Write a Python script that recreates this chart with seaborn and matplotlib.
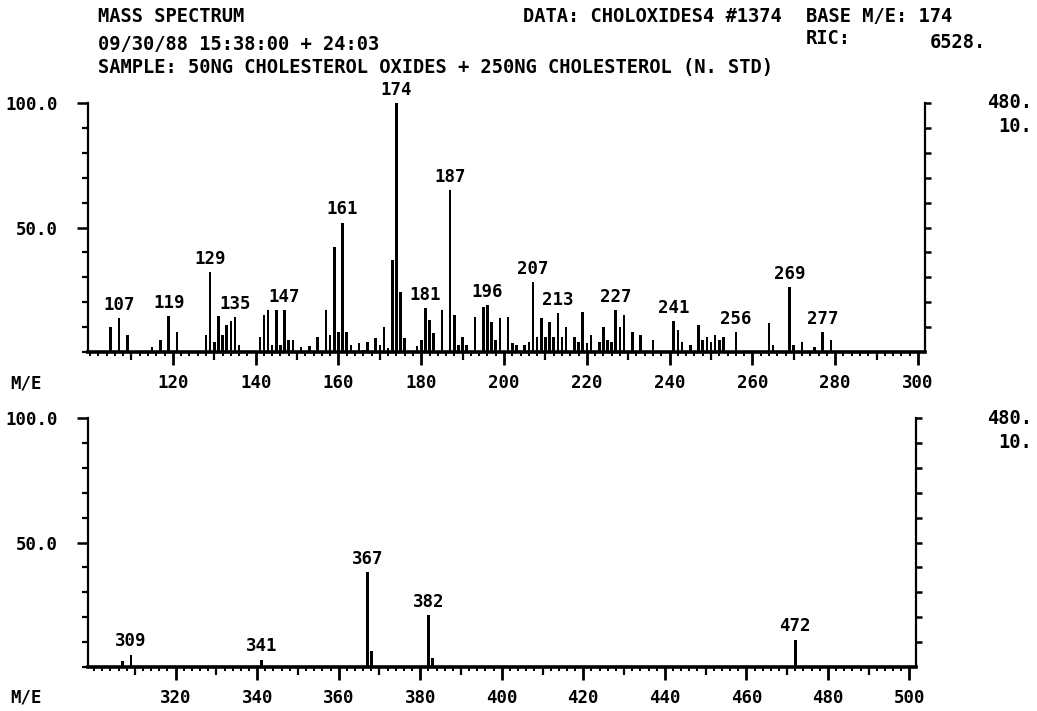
import numpy as np
import pandas as pd
import seaborn as sns
import matplotlib
matplotlib.use("Agg")
import matplotlib.pyplot as plt
from matplotlib.ticker import MultipleLocator

# ---------------- data ----------------
top_mz = [105, 107, 109, 115, 117, 119, 121,
          128, 129, 130, 131, 132, 133, 134, 135, 136,
          141, 142, 143, 144, 145, 146, 147, 148, 149,
          151, 153, 155, 157, 158, 159, 160, 161, 162, 163,
          165, 166, 167, 169, 170, 171, 172, 173, 174, 175, 176,
          179, 180, 181, 182, 183, 185, 187, 188, 189, 190, 191,
          193, 195, 196, 197, 198, 199, 201, 202, 203, 205, 206,
          207, 208, 209, 210, 211, 212, 213, 214, 215, 217, 218, 219, 220, 221,
          223, 224, 225, 226, 227, 228, 229, 231, 233, 236,
          241, 242, 243, 245, 247, 248, 249, 250, 251, 252, 253, 256,
          264, 265, 269, 270, 272, 275, 277, 279]
top_int = [10, 13.6, 7, 2, 5, 14.5, 8,
           7, 32, 4, 14.5, 7, 11, 12.5, 14, 3,
           6, 15, 17, 3, 17, 3, 17, 5, 5,
           2, 2.4, 6, 17, 7, 42, 8, 52, 8, 3,
           3.5, 1, 4, 5.5, 3, 10, 1.5, 37, 100, 24, 5.5,
           2.4, 5, 17.6, 13, 7.6, 17, 65, 15, 3, 6, 3,
           14, 18, 19, 12, 5, 13.5, 14, 3.5, 3, 3, 4,
           28, 6, 13.5, 6, 12, 6, 15.5, 6, 10, 6, 4, 16, 3.5, 7,
           4, 10, 5, 4, 17, 10, 15, 8, 7, 5,
           12.5, 9, 4, 3, 11, 5, 6, 4, 7, 5, 6, 8,
           11.6, 3, 26, 3, 4, 2, 8, 5]
top_labels = [107, 119, 129, 135, 147, 161, 174, 181, 187, 196, 207, 213,
              227, 241, 256, 269, 277]

bot_mz = [307, 309, 341, 367, 368, 382, 383, 472]
bot_int = [2.4, 5, 3, 38, 6.5, 21, 3.5, 11]
bot_labels = [309, 341, 367, 382, 472]

top_ticks = [120, 140, 160, 180, 200, 220, 240, 260, 280, 300]
bot_ticks = [320, 340, 360, 380, 400, 420, 440, 460, 480, 500]
y_ticks = [50, 100]
y_ticklabels = ["50.0", "100.0"]

header_left = ["MASS SPECTRUM",
               "09/30/88 15:38:00 + 24:03",
               "SAMPLE: 50NG CHOLESTEROL OXIDES + 250NG CHOLESTEROL (N. STD)"]
header_data = "DATA: CHOLOXIDES4 #1374"
header_base = "BASE M/E: 174"
header_ric = "RIC:"
header_ric_val = "6528."
right_scale = ["480.", "10."]
axis_name = "M/E"

# ---------------- style ----------------
sns.set_theme(style="white")
plt.rcParams["font.family"] = ["DejaVu Sans Mono"]
plt.rcParams["font.weight"] = "bold"

W, H = 1037, 711
fig = plt.figure(figsize=(W / 100, H / 100), dpi=100)
fig.patch.set_facecolor("white")


def fx(px):
    return px / W


def fy(py):
    return 1 - py / H


TXT = dict(fontsize=13.5, fontweight="bold", color="black")
LAB = dict(fontsize=12.5, fontweight="bold", color="black")


def make_panel(rect, mz, inten, labels, xlim, major):
    ax = fig.add_axes(rect)
    df = pd.DataFrame({"mz": mz, "intensity": inten})
    sns.barplot(data=df, x="mz", y="intensity", native_scale=True, width=0.62,
                color="black", saturation=1, linewidth=0, errorbar=None, ax=ax)
    ax.set_xlim(*xlim)
    ax.set_ylim(0, 100)
    ax.set_xlabel("")
    ax.set_ylabel("")
    ax.set_facecolor("white")
    for s in ["left", "right", "bottom"]:
        ax.spines[s].set_visible(True)
        ax.spines[s].set_color("black")
    ax.spines["top"].set_visible(False)
    ax.spines["bottom"].set_linewidth(2.6)
    ax.spines["left"].set_linewidth(1.6)
    ax.spines["right"].set_linewidth(1.6)

    # x ticks
    ax.set_xticks(major)
    ax.set_xticklabels([str(t) for t in major], **LAB)
    ax.xaxis.set_minor_locator(MultipleLocator(2))
    ax.tick_params(axis="x", which="major", bottom=True, direction="out",
                   length=9, width=2, pad=7, colors="black")
    ax.tick_params(axis="x", which="minor", bottom=True, direction="out",
                   length=3, width=1.4, colors="black")
    # medium ticks every 10
    sec = ax.secondary_xaxis("bottom")
    sec.set_xticks([t - 10 for t in major])
    sec.tick_params(axis="x", length=5.5, width=1.6, labelbottom=False,
                    colors="black", bottom=True, direction="out")
    sec.spines["bottom"].set_visible(False)

    # left y ticks
    ax.set_yticks(y_ticks)
    ax.set_yticklabels(y_ticklabels, **LAB)
    ax.yaxis.set_minor_locator(MultipleLocator(10))
    ax.tick_params(axis="y", which="major", left=True, right=False,
                   labelright=False, direction="out", length=8, width=1.8,
                   pad=14, colors="black")
    ax.tick_params(axis="y", which="minor", left=True, right=False,
                   direction="out", length=4.5, width=1.6, colors="black")
    # right y ticks: uniform short stubs every 10
    secy = ax.secondary_yaxis("right")
    secy.set_yticks(list(range(10, 101, 10)))
    secy.tick_params(axis="y", length=4.5, width=1.8, labelright=False,
                     right=True, direction="out", colors="black")
    secy.spines["right"].set_visible(False)

    # peak labels
    lookup = dict(zip(mz, inten))
    for m in labels:
        ax.annotate(str(m), xy=(m, lookup[m]), xytext=(0, 3),
                    textcoords="offset points", ha="center", va="bottom",
                    annotation_clip=False, **LAB)
    return ax


ax1 = make_panel([fx(88), fy(352), fx(925 - 88), (352 - 103) / H],
                 top_mz, top_int, top_labels, (99.5, 301.7), top_ticks)
ax2 = make_panel([fx(88), fy(667), fx(916 - 88), (667 - 418) / H],
                 bot_mz, bot_int, bot_labels, (298.5, 501.6), bot_ticks)

# header text
fig.text(fx(98), fy(17), header_left[0], ha="left", va="center", **TXT)
fig.text(fx(98), fy(44), header_left[1], ha="left", va="center", **TXT)
fig.text(fx(98), fy(67), header_left[2], ha="left", va="center", **TXT)
fig.text(fx(523), fy(17), header_data, ha="left", va="center", **TXT)
fig.text(fx(806), fy(17), header_base, ha="left", va="center", **TXT)
fig.text(fx(806), fy(39), header_ric, ha="left", va="center", **TXT)
fig.text(fx(986), fy(42), header_ric_val, ha="right", va="center", **TXT)

for ytop in (103, 418):
    fig.text(fx(1032), fy(ytop), right_scale[0], ha="right", va="center", **TXT)
    fig.text(fx(1032), fy(ytop + 24), right_scale[1], ha="right", va="center", **TXT)

fig.text(fx(10), fy(383), axis_name, ha="left", va="center", **LAB)
fig.text(fx(10), fy(698), axis_name, ha="left", va="center", **LAB)

fig.savefig("out.png", dpi=100, facecolor="white")
